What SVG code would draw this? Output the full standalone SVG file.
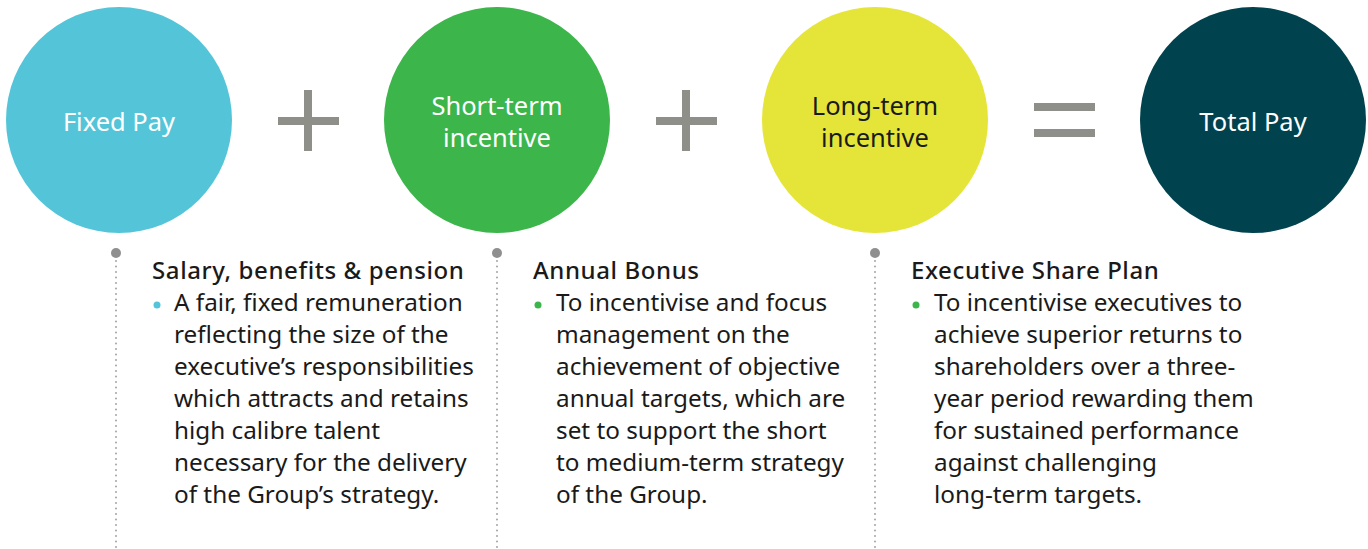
<svg xmlns="http://www.w3.org/2000/svg" width="1368" height="549" viewBox="0 0 1368 549">
<style>
.ct{font-family:"Noto Sans",sans-serif;font-size:25.5px;text-anchor:middle}
.hd{font-family:"Noto Sans",sans-serif;font-size:24px;font-weight:500;letter-spacing:0.6px;fill:#1a1a1a}
.bd{font-family:"Noto Sans",sans-serif;font-size:24.3px;fill:#1a1a1a}
.op{fill:#8f8f8a}
.dl{stroke:#9a9a9a;stroke-width:1.8;stroke-dasharray:0 5.5;stroke-linecap:round;fill:none}
.pin{fill:#8f8f8f}
</style>
<rect width="1368" height="549" fill="#ffffff"/>
<g id="fixed-pay"><circle cx="119" cy="120" r="113" fill="#54c5d8"/><text class="ct" x="119" y="131" fill="#ffffff">Fixed Pay</text></g>
<g id="plus-1" class="op"><rect x="278" y="117" width="61" height="8"/><rect x="304" y="90" width="8" height="61"/></g>
<g id="short-term"><circle cx="497" cy="120" r="113" fill="#3cb54b"/><text class="ct" x="497" y="115" fill="#ffffff">Short-term</text><text class="ct" x="497" y="147" fill="#ffffff">incentive</text></g>
<g id="plus-2" class="op"><rect x="656" y="117" width="61" height="8"/><rect x="682" y="90" width="8" height="61"/></g>
<g id="long-term"><circle cx="875" cy="120" r="113" fill="#e5e539"/><text class="ct" x="875" y="115" fill="#1a1a1a">Long-term</text><text class="ct" x="875" y="147" fill="#1a1a1a">incentive</text></g>
<g id="equals" class="op"><rect x="1034" y="103" width="61" height="8"/><rect x="1034" y="129" width="61" height="8"/></g>
<g id="total-pay"><circle cx="1253" cy="120" r="113" fill="#00434f"/><text class="ct" x="1253" y="131" fill="#ffffff">Total Pay</text></g>
<g id="connectors">
<line class="dl" x1="116" y1="261" x2="116" y2="549"/><circle class="pin" cx="116" cy="253" r="5"/>
<line class="dl" x1="497" y1="261" x2="497" y2="549"/><circle class="pin" cx="497" cy="253" r="5"/>
<line class="dl" x1="875" y1="261" x2="875" y2="549"/><circle class="pin" cx="875" cy="253" r="5"/>
</g>
<g id="col-1">
<text class="hd" x="152" y="279">Salary, benefits &amp; pension</text>
<circle cx="157" cy="305" r="3.5" fill="#54c5d8"/>
<text class="bd" x="174" y="311">A fair, fixed remuneration</text>
<text class="bd" x="174" y="343">reflecting the size of the</text>
<text class="bd" x="174" y="375">executive’s responsibilities</text>
<text class="bd" x="174" y="407">which attracts and retains</text>
<text class="bd" x="174" y="439">high calibre talent</text>
<text class="bd" x="174" y="471">necessary for the delivery</text>
<text class="bd" x="174" y="503">of the Group’s strategy.</text>
</g>
<g id="col-2">
<text class="hd" x="533" y="279">Annual Bonus</text>
<circle cx="538" cy="305" r="3.5" fill="#3cb54b"/>
<text class="bd" x="556" y="311">To incentivise and focus</text>
<text class="bd" x="556" y="343">management on the</text>
<text class="bd" x="556" y="375">achievement of objective</text>
<text class="bd" x="556" y="407">annual targets, which are</text>
<text class="bd" x="556" y="439">set to support the short</text>
<text class="bd" x="556" y="471">to medium-term strategy</text>
<text class="bd" x="556" y="503">of the Group.</text>
</g>
<g id="col-3">
<text class="hd" x="911" y="279">Executive Share Plan</text>
<circle cx="916" cy="305" r="3.5" fill="#3cb54b"/>
<text class="bd" x="934" y="311">To incentivise executives to</text>
<text class="bd" x="934" y="343">achieve superior returns to</text>
<text class="bd" x="934" y="375">shareholders over a three-</text>
<text class="bd" x="934" y="407">year period rewarding them</text>
<text class="bd" x="934" y="439">for sustained performance</text>
<text class="bd" x="934" y="471">against challenging</text>
<text class="bd" x="934" y="503">long-term targets.</text>
</g>
</svg>
